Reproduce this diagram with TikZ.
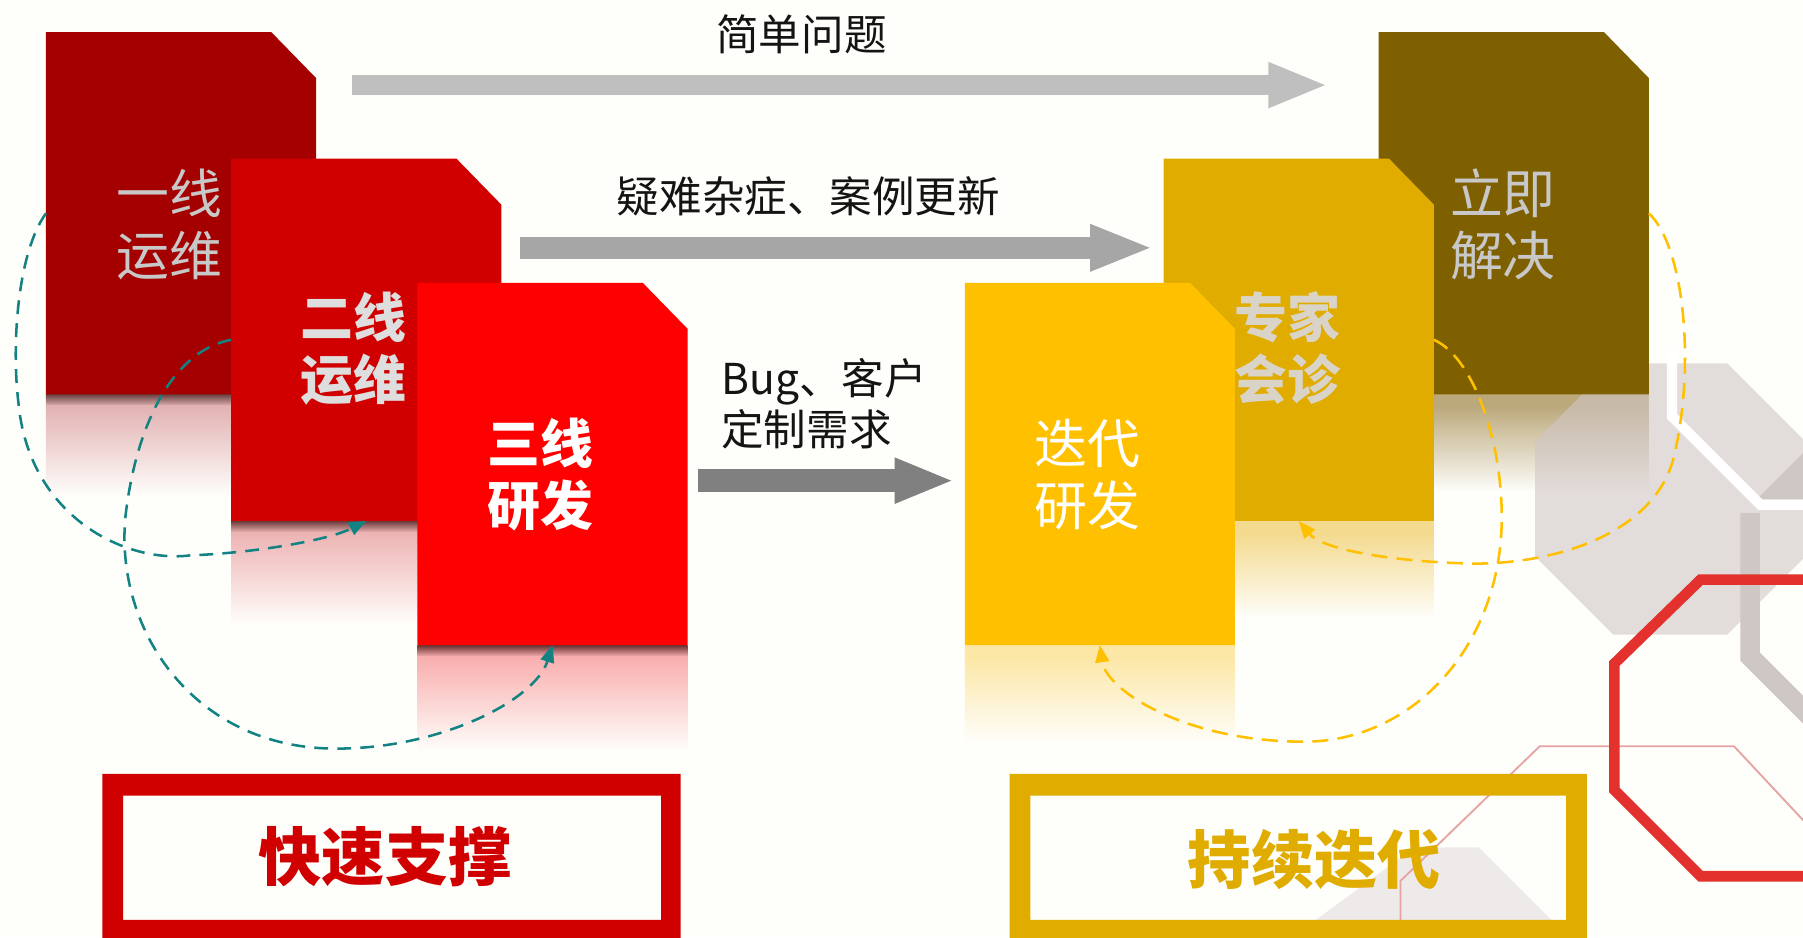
\documentclass[tikz,border=0pt]{standalone}
\usepackage{fontspec}
\setmainfont{Noto Sans CJK SC}
\usetikzlibrary{arrows.meta,calc}
\definecolor{bgc}{HTML}{FEFEFB}
\definecolor{r1}{HTML}{A40000}
\definecolor{r2}{HTML}{D00000}
\definecolor{r3}{HTML}{FF0000}
\definecolor{g1}{HTML}{7F6000}
\definecolor{g2}{HTML}{E0AC00}
\definecolor{g3}{HTML}{FFC000}
\definecolor{kred}{HTML}{D00000}
\definecolor{kgold}{HTML}{E0AC00}
\definecolor{teal1}{HTML}{138282}
\definecolor{gold1}{HTML}{FFC000}
\definecolor{arr1}{HTML}{BFBFBF}
\definecolor{arr2}{HTML}{A6A6A6}
\definecolor{arr3}{HTML}{808080}
\definecolor{hexc}{HTML}{D0C6C6}
\definecolor{hexd}{HTML}{CFC6C6}
\definecolor{trap}{HTML}{EEEAEA}
\definecolor{pinkline}{HTML}{E6A3A3}
\definecolor{octred}{HTML}{E3312D}
\definecolor{lgray}{HTML}{C8C8C8}
\definecolor{lgray2}{HTML}{DEDEDE}
\definecolor{lgray3}{HTML}{DAD4C8}
\definecolor{rf4}{HTML}{BBA97C}
\definecolor{rf5}{HTML}{F4DA8E}
\definecolor{rf6}{HTML}{FCE7A6}
\definecolor{sh1}{HTML}{6A4242}
\definecolor{rf1}{HTML}{E2B2B2}
\definecolor{sh2}{HTML}{6A3A3A}
\definecolor{rf2}{HTML}{EDB3B3}
\definecolor{sh3}{HTML}{6A3030}
\definecolor{rf3}{HTML}{F9AEAE}
\newcommand\mycutbox[2]{%
  \fill[#2] (#1.south west) -- (#1.north west) -- ([xshift=-19.5pt]#1.north east)
    -- ([yshift=-20pt]#1.north east) -- (#1.south east) -- cycle;}
\newcommand\myrefl[4]{%
  \shade[top color=#2,bottom color=#3] (#1.south west) rectangle ($(#1.south east)+(0,10)$);
  \shade[top color=#3,bottom color=bgc] ($(#1.south west)+(0,10)$) rectangle ($(#1.south east)+(0,#4)$);}
\begin{document}
\begin{tikzpicture}[x=0.5pt,y=-0.5pt,
  boxn/.style={minimum width=117.5pt,minimum height=157.5pt,inner sep=0pt,outer sep=0pt,anchor=north west},
  blabel/.style={align=center,inner sep=0pt,font=\fontsize{23pt}{27pt}\selectfont},
  bblabel/.style={align=center,inner sep=0pt,font=\fontsize{23pt}{27pt}\selectfont\bfseries},
  alabel/.style={inner sep=0pt,text=black!92,font=\fontsize{18.5pt}{22.5pt}\selectfont},
  klabel/.style={inner sep=0pt,font=\fontsize{27.5pt}{30pt}\selectfont\bfseries},
  tealdash/.style={draw=teal1,line width=1.1pt,dash pattern=on 6pt off 4pt,-{Triangle[length=7.5pt,width=6pt]}},
  golddash/.style={draw=gold1,line width=1.1pt,dash pattern=on 7pt off 4pt,-{Triangle[length=7.5pt,width=6pt]}},
]
\useasboundingbox (0,0) rectangle (1568,815);
\clip (0,0) rectangle (1568,815);
\fill[bgc] (0,0) rectangle (1568,815);

% box anchors
\node[boxn] (b1) at (40,28) {};
\node[boxn] (b2) at (201,138) {};
\node[boxn] (b3) at (363,246) {};
\node[boxn] (b4) at (1199,28) {};
\node[boxn] (b5) at (1012,138) {};
\node[boxn] (b6) at (839,246) {};

% background decoration
\fill[trap] (1230,737) -- (1286,737) -- (1364,815) -- (1124,815) -- cycle;
\draw[pinkline,line width=0.8pt] (1218,815) -- (1218,766) -- (1339,649) -- (1508,649) -- (1580,726);

% gold stack, back box with reflection
\myrefl{b4}{rf4}{rf4}{85}
\fill[hexc,fill opacity=0.6] (1403,316) -- (1502,316) -- (1570,384) -- (1570,484) -- (1502,552) -- (1403,552) -- (1335,484) -- (1335,384) -- cycle;
\fill[hexd] (1528,434) -- (1570,392) -- (1570,434) -- cycle;
\draw[white,line width=4.5pt] (1454,300) -- (1454,362) -- (1531,439) -- (1580,439);
\draw[hexd,line width=8.5pt] (1522,446) -- (1522,571) -- (1580,629);
\draw[octred,line width=4.6pt,line join=miter] (1600,504) -- (1479,504) -- (1404,577) -- (1404,687) -- (1479,762) -- (1600,762);
\mycutbox{b4}{g1}
\myrefl{b5}{rf5}{rf5}{85}
\mycutbox{b5}{g2}
\myrefl{b6}{rf6}{rf6}{85}
\mycutbox{b6}{g3}

% red stack
\myrefl{b1}{sh1}{rf1}{88}
\mycutbox{b1}{r1}
\myrefl{b2}{sh2}{rf2}{90}
\mycutbox{b2}{r2}
\myrefl{b3}{sh3}{rf3}{92}
\mycutbox{b3}{r3}

% box labels
\node[blabel,text=lgray] (t1) at (147,195) {一线\\运维};
\node[bblabel,text=lgray2] (t2) at (307,303) {二线\\运维};
\node[bblabel,text=white] (t3) at (470,413) {三线\\研发};
\node[blabel,text=lgray] (t4) at (1307,195) {立即\\解决};
\node[bblabel,text=lgray3] (t5) at (1120,303) {专家\\会诊};
\node[blabel,text=white] (t6) at (946,413) {迭代\\研发};

% gray block arrows
\coordinate (a1s) at (306,74);
\coordinate (a1e) at (1155,74);
\coordinate (a2s) at (452,215.5);
\coordinate (a2e) at (1003,215.5);
\coordinate (a3s) at (607,418);
\coordinate (a3e) at (830,418);
\draw[arr1,line width=9pt,-{Triangle[length=26pt,width=18pt]}] (a1s) -- (a1e);
\draw[arr2,line width=9.5pt,-{Triangle[length=27.5pt,width=18.5pt]}] (a2s) -- (a2e);
\draw[arr3,line width=10pt,-{Triangle[length=26pt,width=18pt]}] (a3s) -- (a3e);
\node[alabel] (l1) at (697,30) {简单问题};
\node[alabel] (l2) at (703,171) {疑难杂症、案例更新};
\node[alabel,align=left,anchor=west] (l3) at (627,351) {Bug、客户\\定制需求};

% dashed feedback curves
\draw[tealdash] (b1.west) .. controls (15,220) and (10,300) .. (16,350)
  .. controls (25,450) and (110,490) .. (165,483)
  .. controls (220,481) and (285,470) .. (b2.south);
\draw[tealdash] (b2.west) .. controls (150,305) and (118,370) .. (109,450)
  .. controls (100,550) and (170,650) .. (290,651)
  .. controls (380,652) and (465,610) .. (b3.south);
\draw[golddash] (b4.east) .. controls (1465,215) and (1475,320) .. (1455,400)
  .. controls (1435,470) and (1340,492) .. (1275,490)
  .. controls (1210,488) and (1150,478) .. (b5.south);
\draw[golddash] (b5.east) .. controls (1280,310) and (1306,380) .. (1306,450)
  .. controls (1306,560) and (1230,645) .. (1134,645)
  .. controls (1030,645) and (962,600) .. (b6.south);

% bottom frames
\fill[kred,even odd rule] (89,673) rectangle (592,822) (107,692) rectangle (575,800);
\node[klabel,text=kred] (k1) at (335,745) {快速支撑};
\fill[kgold,even odd rule] (878,673) rectangle (1380,822) (896,692) rectangle (1362,800);
\node[klabel,text=kgold] (k2) at (1143,747) {持续迭代};
\end{tikzpicture}
\end{document}
